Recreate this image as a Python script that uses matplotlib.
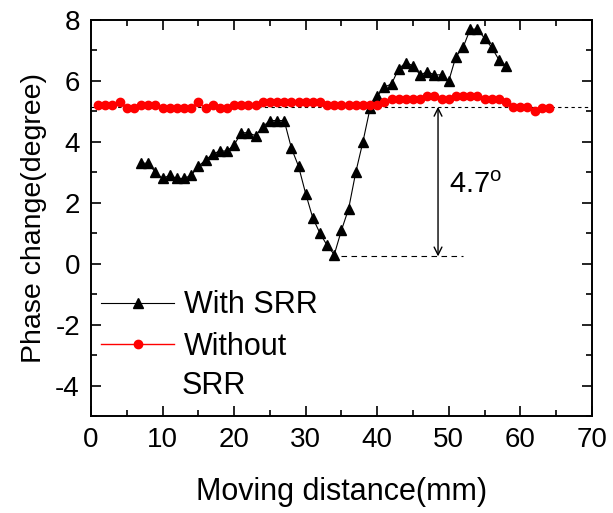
import numpy as np
import matplotlib
matplotlib.use("Agg")
import matplotlib.pyplot as plt
from matplotlib.ticker import MultipleLocator

plt.rcParams['font.family'] = ['Liberation Sans', 'DejaVu Sans']
plt.rcParams['mathtext.fontset'] = 'custom'
plt.rcParams['mathtext.rm'] = 'Liberation Sans'
plt.rcParams['axes.unicode_minus'] = False

# --- data ---
x_srr = np.arange(7, 59)
phase_srr = [3.3, 3.3, 3.0, 2.8, 2.9, 2.8, 2.8, 2.9, 3.2, 3.4,
             3.6, 3.7, 3.7, 3.9, 4.3, 4.3, 4.2, 4.5, 4.7, 4.7,
             4.7, 3.8, 3.2, 2.3, 1.5, 1.0, 0.6, 0.3, 1.1, 1.8,
             3.0, 4.0, 5.1, 5.5, 5.8, 5.9, 6.4, 6.6, 6.5, 6.2,
             6.3, 6.2, 6.2, 6.0, 6.8, 7.1, 7.7, 7.7, 7.4, 7.1,
             6.7, 6.5]

x_ref = np.arange(1, 65)
phase_ref = [5.2, 5.2, 5.2, 5.3, 5.1, 5.1, 5.2, 5.2, 5.2, 5.1,
             5.1, 5.1, 5.1, 5.1, 5.3, 5.1, 5.2, 5.1, 5.1, 5.2,
             5.2, 5.2, 5.2, 5.3, 5.3, 5.3, 5.3, 5.3, 5.3, 5.3,
             5.3, 5.3, 5.2, 5.2, 5.2, 5.2, 5.2, 5.2, 5.2, 5.2,
             5.3, 5.4, 5.4, 5.4, 5.4, 5.4, 5.5, 5.5, 5.4, 5.4,
             5.5, 5.5, 5.5, 5.5, 5.4, 5.4, 5.4, 5.3, 5.15, 5.15,
             5.15, 5.0, 5.1, 5.1]

baseline = 5.15   # dotted reference level
minimum = 0.24    # dashed level at the dip
arrow_x = 48.5

fig = plt.figure(figsize=(6.13, 5.13), dpi=100)
ax = fig.add_axes([0.1485, 0.189, 0.817, 0.772])

ax.plot(x_srr, phase_srr, color='black', lw=0.8, marker='^', ms=6.5,
        mec='black', mfc='black', label='With SRR')
ax.plot(x_ref, phase_ref, color='red', lw=1.0, marker='o', ms=6.0,
        mec='red', mfc='red', label='Without')

# reference lines and annotation
ax.axhline(baseline, color='black', lw=0.8, ls=(0, (3, 3)), zorder=1)
ax.plot([33.5, 52], [minimum, minimum], color='black', lw=0.8, ls=(0, (5, 4)))
ax.annotate('', xy=(arrow_x, baseline), xytext=(arrow_x, minimum),
            arrowprops=dict(arrowstyle='<->', lw=1.0, color='black',
                            shrinkA=0, shrinkB=0, mutation_scale=14))
ax.text(50.0, 2.6, r'4.7$^{\rm o}$', fontsize=21, va='center', ha='left')

ax.set_xlim(0, 70)
ax.set_ylim(-5, 8)
ax.xaxis.set_major_locator(MultipleLocator(10))
ax.xaxis.set_minor_locator(MultipleLocator(5))
ax.yaxis.set_major_locator(MultipleLocator(2))
ax.yaxis.set_minor_locator(MultipleLocator(1))
ax.tick_params(which='both', direction='in', top=True, right=True, width=1.2)
ax.tick_params(which='major', length=7, labelsize=20, pad=8)
ax.tick_params(which='minor', length=4)
for s in ax.spines.values():
    s.set_linewidth(1.4)

ax.set_xlabel('Moving distance(mm)', fontsize=22, labelpad=17)
ax.set_ylabel('Phase change(degree)', fontsize=20.5, labelpad=6)

leg = ax.legend(loc='center left', bbox_to_anchor=(0.02, 0.227), frameon=False,
                fontsize=22, handlelength=2.4, handletextpad=0.3,
                labelspacing=0.38, borderaxespad=0, borderpad=0)
ax.text(0.18, 0.076, 'SRR', transform=ax.transAxes, fontsize=22,
        va='center', ha='left')

fig.savefig('out.png', dpi=100)
